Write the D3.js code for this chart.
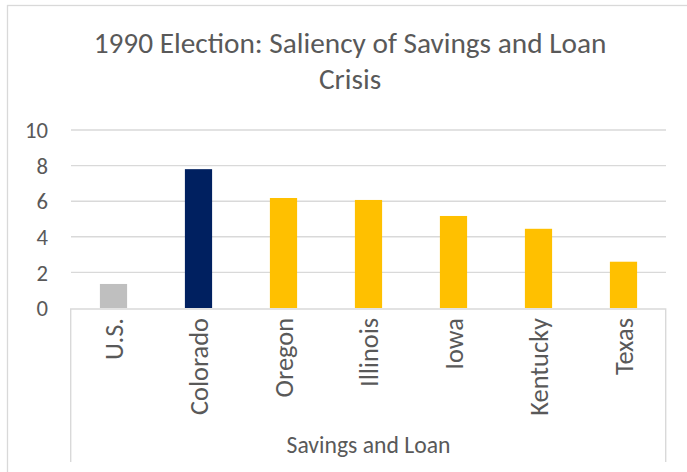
<!DOCTYPE html>
<html>
<head>
<meta charset="utf-8">
<script src="https://cdn.jsdelivr.net/npm/d3@7"></script>
<style>
  html, body { margin: 0; padding: 0; background: #fff; }
  svg { display: block; }
  text { font-family: Carlito, Calibri, Lato, sans-serif; fill: #595959; }
</style>
</head>
<body>
<div id="chart"></div>
<script>
const titleLines = ["1990 Election: Saliency of Savings and Loan", "Crisis"];
const categories = ["U.S.", "Colorado", "Oregon", "Illinois", "Iowa", "Kentucky", "Texas"];
const values = [1.35, 7.8, 6.18, 6.07, 5.17, 4.45, 2.6];
const barColors = ["#bfbfbf", "#002060", "#ffc000", "#ffc000", "#ffc000", "#ffc000", "#ffc000"];
const yTicks = [0, 2, 4, 6, 8, 10];
const axisTitle = "Savings and Loan";

const W = 687, H = 472;
const plot = { left: 71, right: 666, top: 130, bottom: 308 };

const svg = d3.select("#chart").append("svg").attr("width", W).attr("height", H);

// fit a font size so that sample text has target width
function fitSize(sample, target) {
  const t = svg.append("text").attr("font-size", 100).text(sample);
  const len = t.node().getComputedTextLength();
  t.remove();
  return 100 * target / len;
}
const titleSize = fitSize(titleLines[0], 513);
const tickSize = fitSize("10", 23);
const catSize = fitSize("Colorado", 97);
const axTitleSize = fitSize(axisTitle, 164);

// outer chart border
svg.append("rect").attr("x", 7.5).attr("y", 5.5).attr("width", W).attr("height", H)
  .attr("fill", "none").attr("stroke", "#d9d9d9").attr("stroke-width", 1.3);

const x = d3.scaleBand().domain(categories).range([plot.left, plot.right]).paddingInner(0.68).paddingOuter(0.34);
const y = d3.scaleLinear().domain([0, 10]).range([plot.bottom, plot.top]);

// gridlines
svg.append("g").selectAll("line").data(yTicks.filter(d => d > 0)).join("line")
  .attr("x1", plot.left).attr("x2", plot.right)
  .attr("y1", d => y(d)).attr("y2", d => y(d))
  .attr("stroke", "#d9d9d9").attr("stroke-width", 1.4);

// y axis labels
const yAxis = d3.axisLeft(y).tickValues(yTicks).tickSize(0).tickPadding(0).tickFormat(d3.format("d"));
const yg = svg.append("g").attr("transform", "translate(48,0)").call(yAxis);
yg.select(".domain").remove();
yg.selectAll("text").attr("font-size", tickSize).attr("fill", "#595959")
  .attr("font-family", "Carlito, Calibri, Lato, sans-serif").attr("dy", "0.34em");

// bars
svg.append("g").selectAll("rect").data(categories).join("rect")
  .attr("x", d => x(d))
  .attr("width", x.bandwidth())
  .attr("y", (d, i) => y(values[i]))
  .attr("height", (d, i) => y(0) - y(values[i]))
  .attr("fill", (d, i) => barColors[i]);

// category axis box
const boxBottom = 462;
svg.append("path")
  .attr("d", `M${plot.left - 0.3},${boxBottom}V${plot.bottom + 1}H${plot.right - 0.3}V${boxBottom}`)
  .attr("fill", "none").attr("stroke", "#d9d9d9").attr("stroke-width", 1.4);

// category labels (rotated)
const xAxis = d3.axisBottom(x).tickSize(0).tickPadding(0);
const xg = svg.append("g").attr("transform", `translate(0,${plot.bottom})`).call(xAxis);
xg.select(".domain").remove();
xg.selectAll("text")
  .attr("font-size", catSize).attr("fill", "#595959")
  .attr("font-family", "Carlito, Calibri, Lato, sans-serif")
  .attr("text-anchor", "end")
  .attr("dy", "0.35em")
  .attr("transform", "translate(0,10) rotate(-90)")
  .attr("x", 0).attr("y", 0);

// axis title
svg.append("text").attr("x", (plot.left + plot.right) / 2).attr("y", 453)
  .attr("text-anchor", "middle").attr("font-size", axTitleSize).text(axisTitle);

// chart title
svg.append("g").selectAll("text").data(titleLines).join("text")
  .attr("x", 350).attr("y", (d, i) => 53 + i * 36)
  .attr("text-anchor", "middle").attr("font-size", titleSize).text(d => d);
</script>
</body>
</html>
